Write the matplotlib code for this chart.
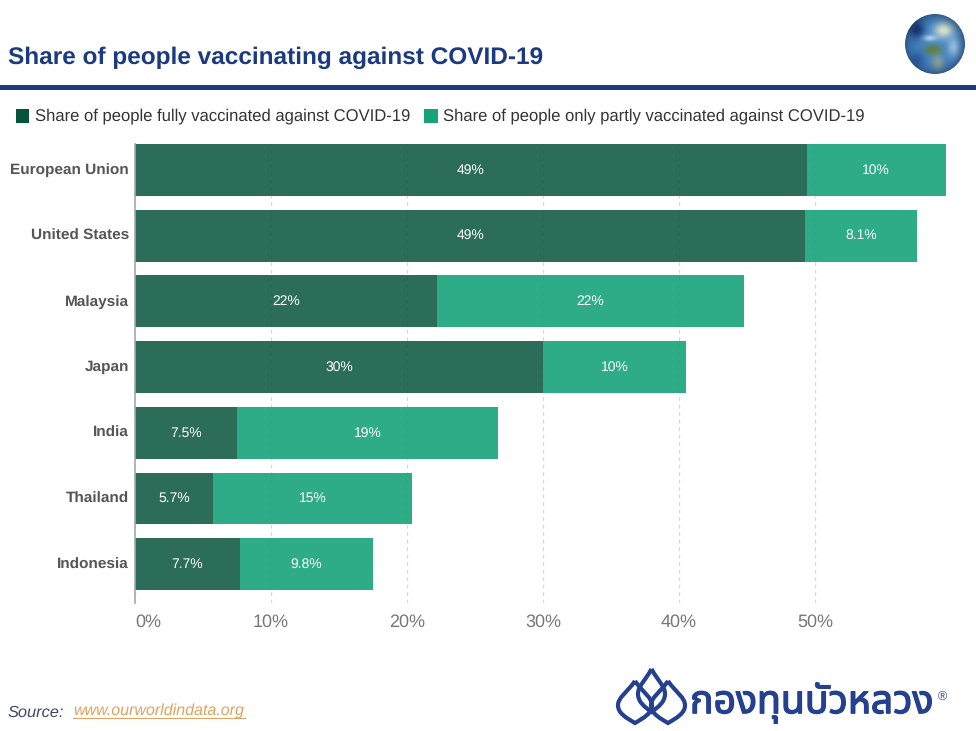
import matplotlib
matplotlib.use("Agg")
import matplotlib.pyplot as plt
from matplotlib import patheffects
from matplotlib.patches import Circle, PathPatch, Rectangle
from matplotlib.path import Path
from matplotlib.transforms import ScaledTranslation
import numpy as np

plt.rcParams["font.family"] = ["Liberation Sans", "DejaVu Sans"]
plt.rcParams["text.hinting"] = "no_hinting"

W, H = 976, 731
NAVY = "#1c3a80"
LOGO = "#24408f"
DARK = "#07533c"
LIGHT = "#17a27a"

countries = ["European Union", "United States", "Malaysia", "Japan", "India", "Thailand", "Indonesia"]
fully = [49.4, 49.3, 22.2, 30.0, 7.5, 5.7, 7.7]
partly = [10.2, 8.2, 22.6, 10.5, 19.2, 14.7, 9.8]
fully_labels = ["49%", "49%", "22%", "30%", "7.5%", "5.7%", "7.7%"]
partly_labels = ["10%", "8.1%", "22%", "10%", "19%", "15%", "9.8%"]
xticks = [0, 10, 20, 30, 40, 50]


def px_axes(fig, x0, y0, x1, y1):
    """axes from pixel box, y measured from the top"""
    return fig.add_axes([x0 / W, 1 - y1 / H, (x1 - x0) / W, (y1 - y0) / H])


fig = plt.figure(figsize=(W / 100, H / 100), dpi=100, facecolor="white")

# header
fig.text(8 / W, 1 - 58 / H, "Share of people vaccinating against COVID-19", fontsize=17.6,
         fontweight="bold", color=NAVY, va="center", ha="left")
fig.add_artist(Rectangle((0, 1 - 90 / H), 1, 5 / H, transform=fig.transFigure, color=NAVY, lw=0))

# legend, placed by hand to sit on one line like the original
fig.add_artist(Rectangle((16 / W, 1 - 123 / H), 13 / W, 14 / H, transform=fig.transFigure, color=DARK, lw=0))
fig.text(35 / W, 1 - 116 / H, "Share of people fully vaccinated against COVID-19", fontsize=11.95,
         color="#333333", va="center")
fig.add_artist(Rectangle((424 / W, 1 - 123 / H), 14 / W, 14 / H, transform=fig.transFigure, color=LIGHT, lw=0))
fig.text(443 / W, 1 - 116 / H, "Share of people only partly vaccinated against COVID-19", fontsize=11.95,
         color="#333333", va="center")

# bars, slightly see-through so the grid shows faintly
ax = px_axes(fig, 135, 144, 951, 603)
ax.set_xlim(0, 60)
ax.set_ylim(6.59, -0.396)
ypos = np.arange(len(countries))
ax.barh(ypos, fully, height=0.79, color=DARK, alpha=0.85, lw=0, zorder=2)
ax.barh(ypos, partly, left=fully, height=0.79, color=LIGHT, alpha=0.9, lw=0, zorder=2)
for y, f, p, fl, pl in zip(ypos, fully, partly, fully_labels, partly_labels):
    ax.text(f / 2, y, fl, color="white", fontsize=10, ha="center", va="center", zorder=3)
    ax.text(f + p / 2, y, pl, color="white", fontsize=10, ha="center", va="center", zorder=3)

ax.set_xticks(xticks)
ax.set_xticklabels([f"{t}%" for t in xticks], fontsize=13, color="#777777")
for lab, t in zip(ax.get_xticklabels(), xticks):
    lab.set_ha("left" if t == 0 else "center")
ax.tick_params(axis="x", length=0, pad=8)
ax.set_yticks(ypos)
ax.set_yticklabels(countries, fontsize=11.05, fontweight="bold", color="#555555")
ax.tick_params(axis="y", length=0, pad=4.5)
up = ScaledTranslation(0, 1.2 / 100, fig.dpi_scale_trans)
for lab in ax.get_yticklabels():
    lab.set_transform(lab.get_transform() + up)
ax.grid(axis="x", color="#d8d8d8", lw=0.9, ls=(0, (3, 3)))
for s in ["top", "right", "bottom"]:
    ax.spines[s].set_visible(False)
ax.spines["left"].set_color("#a8a8a8")
ax.spines["left"].set_linewidth(1.2)
ax.set_axisbelow(True)

# source line
fig.text(8 / W, 1 - 713 / H, "Source:", fontsize=11.8, style="italic", color="#3c4a68", va="center")
fig.text(73 / W, 1 - 711 / H, "www.ourworldindata.org", fontsize=11.5, style="italic", color="#e0a35f",
         va="center")
fig.add_artist(Rectangle((73 / W, 1 - 719 / H), 173 / W, 1.2 / H, transform=fig.transFigure, color="#e0a35f", lw=0))

# globe, soft colour blobs on a blue ball
gax = px_axes(fig, 900, 9, 970, 79)
gax.set_xlim(0, 70)
gax.set_ylim(70, 0)
gax.axis("off")
yy, xx = np.mgrid[0:70, 0:70] + 0.5
rgb = np.ones((70, 70, 3)) * np.array([0.27, 0.53, 0.80])
for cx, cy, sx, sy, c, a in [(17, 21, 8, 9, (0.08, 0.18, 0.42), 0.85),
                             (33, 41, 9, 6, (0.38, 0.50, 0.25), 1.0),
                             (38, 54, 6, 8, (0.62, 0.67, 0.58), 0.8),
                             (44, 21, 10, 8, (0.88, 0.92, 0.80), 1.0),
                             (54, 38, 6, 10, (0.70, 0.83, 0.93), 0.8),
                             (18, 50, 7, 8, (0.15, 0.35, 0.62), 0.7),
                             (30, 29, 7, 3, (0.85, 0.92, 0.97), 0.7)]:
    g = a * np.exp(-((xx - cx) / sx) ** 2 - ((yy - cy) / sy) ** 2)
    rgb = rgb * (1 - g[..., None]) + np.array(c) * g[..., None]
edge = np.clip(np.hypot(xx - 35, yy - 35) / 30, 0, 1) ** 4
rgb = rgb * (1 - 0.35 * edge[..., None])
globe = gax.imshow(rgb, extent=(0, 70, 70, 0), interpolation="bilinear")
globe.set_clip_path(Circle((35, 35), 30, transform=gax.transData))

# logo
lax = px_axes(fig, 610, 660, 695, 730)
lax.set_xlim(610, 695)
lax.set_ylim(730, 660)
lax.axis("off")


def drop(cx, top, half, bottom):
    mid = top + (bottom - top) * 0.58
    verts = [(cx, top), (cx + half * 0.5, top + (mid - top) * 0.5), (cx + half, mid - 8), (cx + half, mid),
             (cx + half, mid + 8), (cx + half * 0.5, bottom - 5), (cx, bottom),
             (cx - half * 0.5, bottom - 5), (cx - half, mid + 8), (cx - half, mid),
             (cx - half, mid - 8), (cx - half * 0.5, top + (mid - top) * 0.5), (cx, top)]
    codes = [Path.MOVETO] + [Path.CURVE4] * 12
    return Path(verts, codes)


for cx, top, half, bottom in [(635, 681, 17, 723), (668, 681, 17, 723), (651.5, 669, 13.5, 712)]:
    lax.add_patch(PathPatch(drop(cx, top, half, bottom), fc="none", ec=LOGO, lw=3, joinstyle="miter"))

logo_txt = fig.text(690 / W, 1 - 703 / H, "กองทุนบัวหลวง", fontsize=28.2, fontweight="bold", color=LOGO,
                    va="center", family=["Noto Sans Thai", "Noto Sans", "Liberation Sans", "DejaVu Sans"])
logo_txt.set_path_effects([patheffects.withStroke(linewidth=1.0, foreground=LOGO)])
fig.text(938 / W, 1 - 697 / H, "®", fontsize=9, color=LOGO, va="center")

fig.savefig("out.png", dpi=100)
